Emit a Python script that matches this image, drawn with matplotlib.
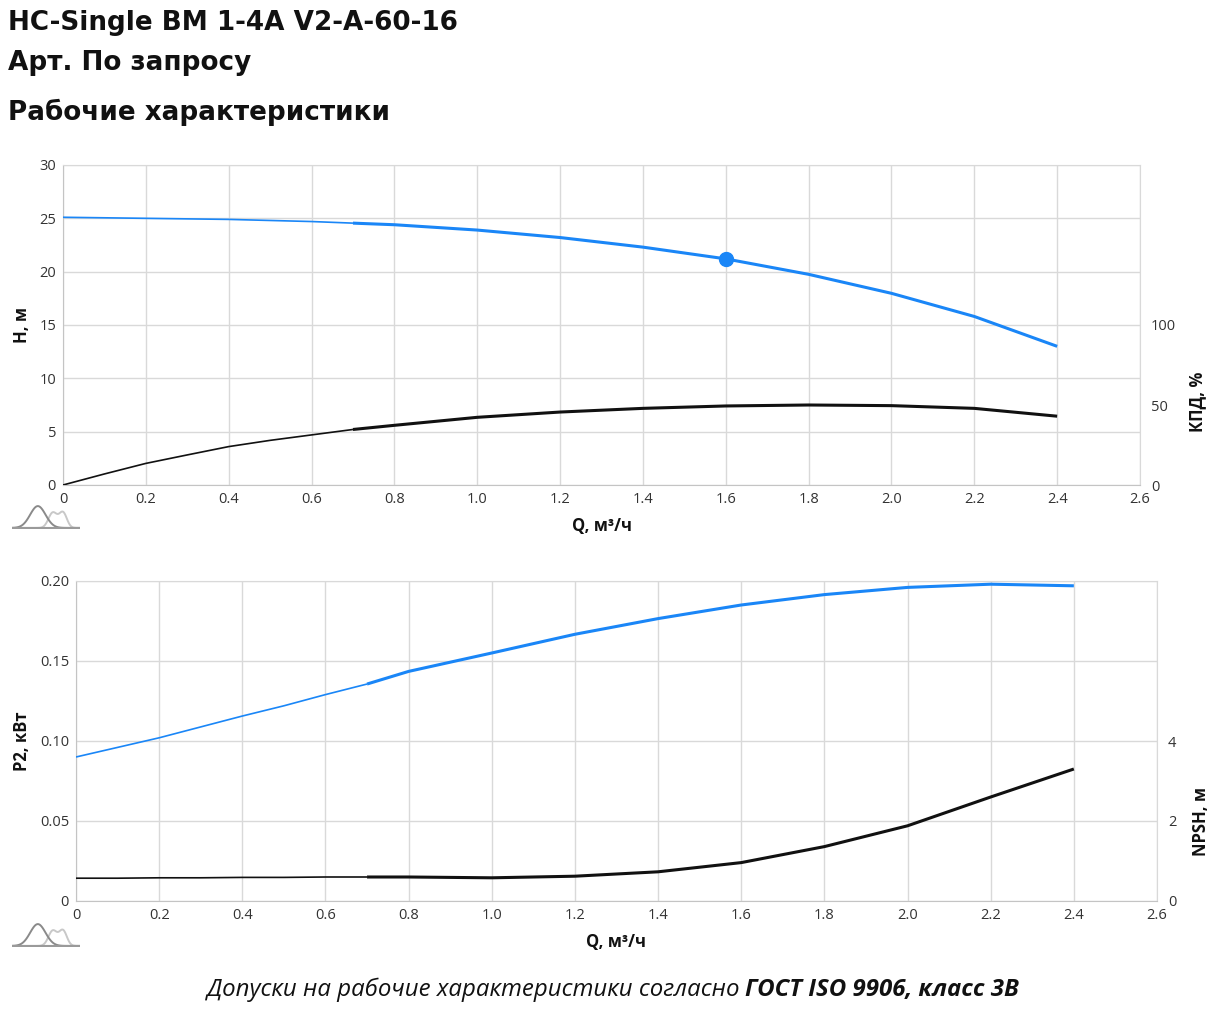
import numpy as np
import matplotlib
matplotlib.use("Agg")
import matplotlib.pyplot as plt

# --------------------------------------------------
# DATA
# --------------------------------------------------
Q = [0, 0.1, 0.2, 0.3, 0.4, 0.5, 0.6, 0.7, 0.8, 1.0, 1.2, 1.4, 1.6, 1.8, 2.0, 2.2, 2.4]
H = [25.1, 25.05, 25.0, 24.95, 24.9, 24.8, 24.7, 24.55, 24.4, 23.9, 23.2, 22.3,
     21.2, 19.75, 17.97, 15.8, 13.0]
EFF = [0, 6.9, 13.5, 18.8, 24.0, 27.9, 31.3, 34.7, 37.3, 42.3, 45.6, 47.9,
       49.4, 50.0, 49.6, 47.9, 43.0]
P2 = [0.090, 0.096, 0.102, 0.1088, 0.1156, 0.122, 0.129, 0.1356, 0.1435, 0.155,
      0.1667, 0.1765, 0.185, 0.1915, 0.196, 0.198, 0.197]
NPSH = [0.57, 0.57, 0.58, 0.58, 0.59, 0.59, 0.60, 0.60, 0.60, 0.58, 0.62, 0.73,
        0.96, 1.36, 1.88, 2.6, 3.3]

Q_WORK_START = 0.7          # operating range begins here (thicker line)
DUTY_Q, DUTY_H = 1.6, 21.2  # duty point

X_TICKS = [0, 0.2, 0.4, 0.6, 0.8, 1.0, 1.2, 1.4, 1.6, 1.8, 2.0, 2.2, 2.4, 2.6]
X_LABELS = ["0", "0.2", "0.4", "0.6", "0.8", "1.0", "1.2", "1.4", "1.6", "1.8",
            "2.0", "2.2", "2.4", "2.6"]
H_TICKS = [0, 5, 10, 15, 20, 25, 30]
EFF_TICKS = [0, 50, 100]
P2_TICKS = [0, 0.05, 0.10, 0.15, 0.20]
P2_LABELS = ["0", "0.05", "0.10", "0.15", "0.20"]
NPSH_TICKS = [0, 2, 4]

BLUE = "#1a86f7"
BLACK = "#111111"
GRID = "#d9d9d9"
TXT = "#333333"

plt.rcParams["font.family"] = ["Open Sans", "DejaVu Sans"]

fig = plt.figure(figsize=(12.25, 10.15), dpi=100)
W, Hpx = 1225, 1015


def ax_rect(left, top, right, bottom):
    return [left / W, 1 - bottom / Hpx, (right - left) / W, (bottom - top) / Hpx]


def split_plot(ax, x, y, color):
    x = np.asarray(x)
    y = np.asarray(y)
    i = int(np.where(np.isclose(x, Q_WORK_START))[0][0])
    ax.plot(x[:i + 1], y[:i + 1], color=color, lw=1.2, solid_capstyle="butt", zorder=3)
    ax.plot(x[i:], y[i:], color=color, lw=2.2, solid_capstyle="butt", zorder=3)


def style_axes(ax):
    ax.set_xlim(0, 2.6)
    ax.set_xticks(X_TICKS)
    ax.set_xticklabels(X_LABELS)
    ax.grid(True, color=GRID, lw=1.0)
    ax.set_axisbelow(True)
    for s in ax.spines.values():
        s.set_color(GRID)
    ax.spines["left"].set_color("#c4c4c4")
    ax.spines["bottom"].set_color("#c4c4c4")
    ax.tick_params(length=0, pad=5, labelsize=10.5, colors=TXT)


def logo(rect):
    # small decorative curve icon under the y axis
    la = fig.add_axes(rect)
    t = np.linspace(0, 1, 120)
    la.plot(t, 0.7 * np.exp(-((t - 0.6) / 0.09) ** 2) + 0.7 * np.exp(-((t - 0.75) / 0.08) ** 2),
            color="#c8c8c8", lw=1.4)
    la.plot(t, np.exp(-((t - 0.38) / 0.16) ** 2), color="#8a8a8a", lw=1.4)
    la.plot([0.02, 1], [0, 0], color="#9a9a9a", lw=1.5)
    la.set_xlim(0, 1)
    la.set_ylim(-0.05, 1.05)
    la.axis("off")


# --------------------------------------------------
# TOP CHART: H and efficiency
# --------------------------------------------------
ax1 = fig.add_axes(ax_rect(63, 165, 1140, 485))
style_axes(ax1)
ax1.set_ylim(0, 30)
ax1.set_yticks(H_TICKS)
split_plot(ax1, Q, H, BLUE)
ax1.plot([DUTY_Q], [DUTY_H], "o", color=BLUE, ms=10, zorder=4)
ax1.set_ylabel("H, м", fontsize=12, fontweight="bold", color=BLACK, labelpad=6)
ax1.set_xlabel("Q, м³/ч", fontsize=12, fontweight="bold", color=BLACK, labelpad=7)

ax1r = ax1.twinx()
ax1r.set_ylim(0, 200)
ax1r.set_yticks(EFF_TICKS)
split_plot(ax1r, Q, EFF, BLACK)
for s in ax1r.spines.values():
    s.set_visible(False)
ax1r.tick_params(length=0, pad=8, labelsize=10.5, colors=TXT)
ax1r.set_ylabel("КПД, %", fontsize=12, fontweight="bold", color=BLACK)
ax1r.yaxis.set_label_coords(1.045, 0.26)

# --------------------------------------------------
# BOTTOM CHART: P2 and NPSH
# --------------------------------------------------
ax2 = fig.add_axes(ax_rect(76, 581, 1157, 901))
style_axes(ax2)
ax2.set_ylim(0, 0.20)
ax2.set_yticks(P2_TICKS)
ax2.set_yticklabels(P2_LABELS)
split_plot(ax2, Q, P2, BLUE)
ax2.set_ylabel("P2, кВт", fontsize=12, fontweight="bold", color=BLACK, labelpad=6)
ax2.set_xlabel("Q, м³/ч", fontsize=12, fontweight="bold", color=BLACK, labelpad=7)

ax2r = ax2.twinx()
ax2r.set_ylim(0, 8)
ax2r.set_yticks(NPSH_TICKS)
split_plot(ax2r, Q, NPSH, BLACK)
for s in ax2r.spines.values():
    s.set_visible(False)
ax2r.tick_params(length=0, pad=8, labelsize=10.5, colors=TXT)
ax2r.set_ylabel("NPSH, м", fontsize=12, fontweight="bold", color=BLACK)
ax2r.yaxis.set_label_coords(1.032, 0.25)

logo(ax_rect(12, 505, 80, 529))
logo(ax_rect(12, 923, 80, 947))

# --------------------------------------------------
# HEADER / FOOTER TEXT
# --------------------------------------------------
title_kw = dict(fontsize=18.9, fontweight="bold", va="center", ha="left",
                color=BLACK, family=["DejaVu Sans"])
fig.text(8 / W, 1 - 23 / Hpx, "HC-Single BM 1-4A V2-A-60-16", **title_kw)
fig.text(8 / W, 1 - 63 / Hpx, "Арт. По запросу", **title_kw)
fig.text(8 / W, 1 - 112 / Hpx, "Рабочие характеристики", **title_kw)

foot_y = 1 - 990 / Hpx
part1 = "Допуски на рабочие характеристики согласно "
part2 = "ГОСТ ISO 9906, класс 3В"
t1 = fig.text(0, foot_y, part1, fontsize=17.3, style="italic", va="center", color=BLACK)
t2 = fig.text(0, foot_y, part2, fontsize=17.3, style="italic", fontweight="bold",
              va="center", color=BLACK)
fig.canvas.draw()
r = fig.canvas.get_renderer()
w1 = t1.get_window_extent(r).width
w2 = t2.get_window_extent(r).width
x0 = 613 - (w1 + w2) / 2
t1.set_x(x0 / W)
t2.set_x((x0 + w1) / W)

fig.savefig("out.png", dpi=100)
